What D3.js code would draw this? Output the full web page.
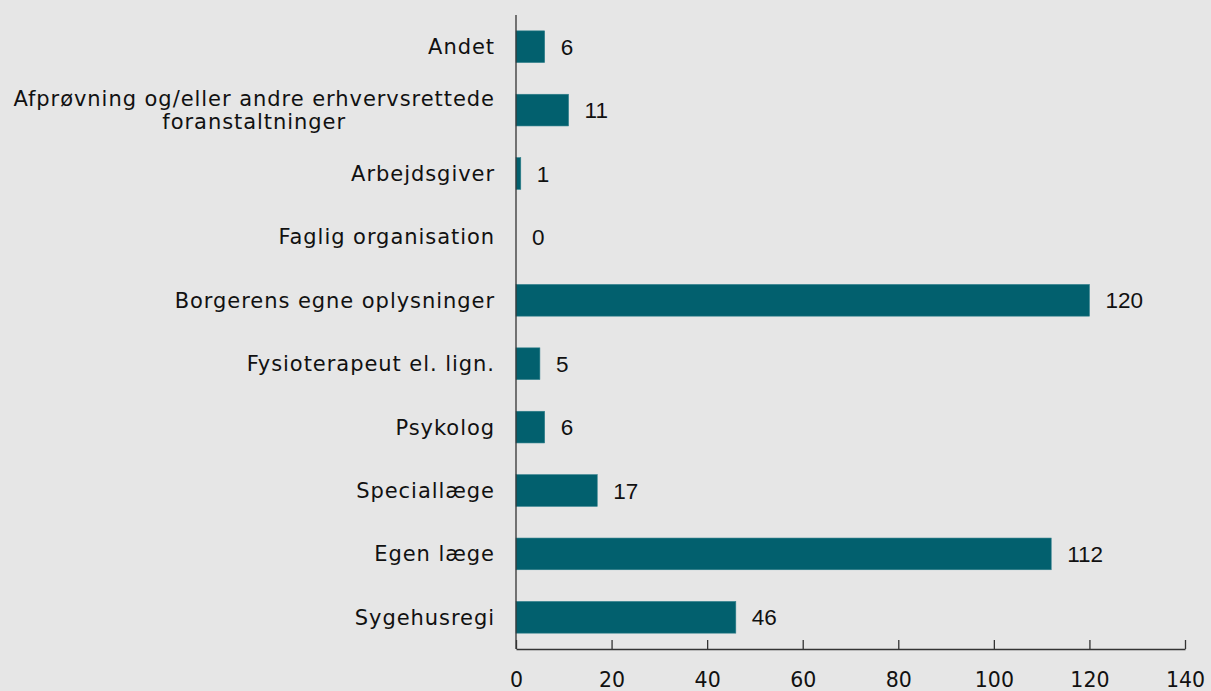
<!DOCTYPE html>
<html lang="da">
<head>
    <meta charset="UTF-8">
    <title>Kilder</title>
    <script src="https://d3js.org/d3.v7.min.js"></script>
    <style>
        body { margin: 0; background: #e6e6e6; }
    </style>
</head>
<body>
<svg id="graph"></svg>
<script>
    const categories = [
        ["Andet"],
        ["Afprøvning og/eller andre erhvervsrettede", "foranstaltninger"],
        ["Arbejdsgiver"],
        ["Faglig organisation"],
        ["Borgerens egne oplysninger"],
        ["Fysioterapeut el. lign. "],
        ["Psykolog "],
        ["Speciallæge"],
        ["Egen læge"],
        ["Sygehusregi"]
    ];
    const values = [6, 11, 1, 0, 120, 5, 6, 17, 112, 46];
    const xTicks = [0, 20, 40, 60, 80, 100, 120, 140];

    const width = 1211, height = 691;
    const margins = { top: 15, right: 26, bottom: 42, left: 516 };

    const svg = d3.select("#graph").attr("width", width).attr("height", height);
    const g = svg.append("g").attr("transform", "translate(" + margins.left + "," + margins.top + ")");

    const innerW = width - margins.left - margins.right;
    const innerH = height - margins.top - margins.bottom;

    const xScale = d3.scaleLinear().domain([0, 140]).range([0, innerW]);
    const yScale = d3.scaleBand().domain(d3.range(values.length)).range([0, innerH]).paddingInner(0.5).paddingOuter(0.25);

    const data = values.map((v, i) => ({ i: i, v: v, label: categories[i] }));

    // bars
    g.selectAll("rect.bar").data(data).enter().append("rect")
        .attr("class", "bar")
        .attr("x", 0)
        .attr("y", d => yScale(d.i))
        .attr("width", d => xScale(d.v))
        .attr("height", yScale.bandwidth())
        .attr("fill", "#02606e")
        .attr("stroke", d => d.v > 0 ? "#2f7f8b" : "none")
        .attr("stroke-width", 0.6);

    // value labels
    g.selectAll("text.val").data(data).enter().append("text")
        .attr("class", "val")
        .attr("x", d => xScale(d.v) + 16)
        .attr("y", d => yScale(d.i) + yScale.bandwidth() / 2)
        .attr("dy", "0.36em")
        .style("font-family", "Liberation Sans, Arial, sans-serif")
        .style("font-size", "22.5px")
        .attr("fill", "#111")
        .text(d => d.v);

    // category labels
    const lineH = 23;
    g.selectAll("g.cat").data(data).enter().append("g")
        .attr("class", "cat")
        .each(function(d) {
            const grp = d3.select(this);
            const cy = yScale(d.i) + yScale.bandwidth() / 2;
            const n = d.label.length;
            const texts = d.label.map((t, k) => grp.append("text")
                .attr("y", cy + (k - (n - 1) / 2) * lineH)
                .attr("dy", "0.36em")
                .style("font-family", "DejaVu Sans, Verdana, sans-serif")
                .style("font-size", "21px")
                .style("letter-spacing", "0.95px")
                .attr("fill", "#111")
                .text(t));
            const widths = texts.map(t => t.node().getComputedTextLength());
            const maxW = d3.max(widths);
            const center = -21 - maxW / 2;
            texts.forEach(t => t.attr("x", center).attr("text-anchor", "middle"));
        });

    // axes
    g.append("g")
        .attr("transform", "translate(0," + innerH + ")")
        .call(d3.axisBottom(xScale).tickValues(xTicks).tickSizeInner(-9).tickSizeOuter(0).tickPadding(23))
        .call(a => a.selectAll("path, line").attr("stroke", "#333").attr("stroke-width", 1.3))
        .call(a => a.selectAll("text").style("font-family", "DejaVu Sans, Verdana, sans-serif").style("font-size", "20.5px").attr("fill", "#111"));

    g.append("line")
        .attr("x1", 0).attr("x2", 0)
        .attr("y1", 0).attr("y2", innerH)
        .attr("stroke", "#333").attr("stroke-width", 1.3);
</script>
</body>
</html>
